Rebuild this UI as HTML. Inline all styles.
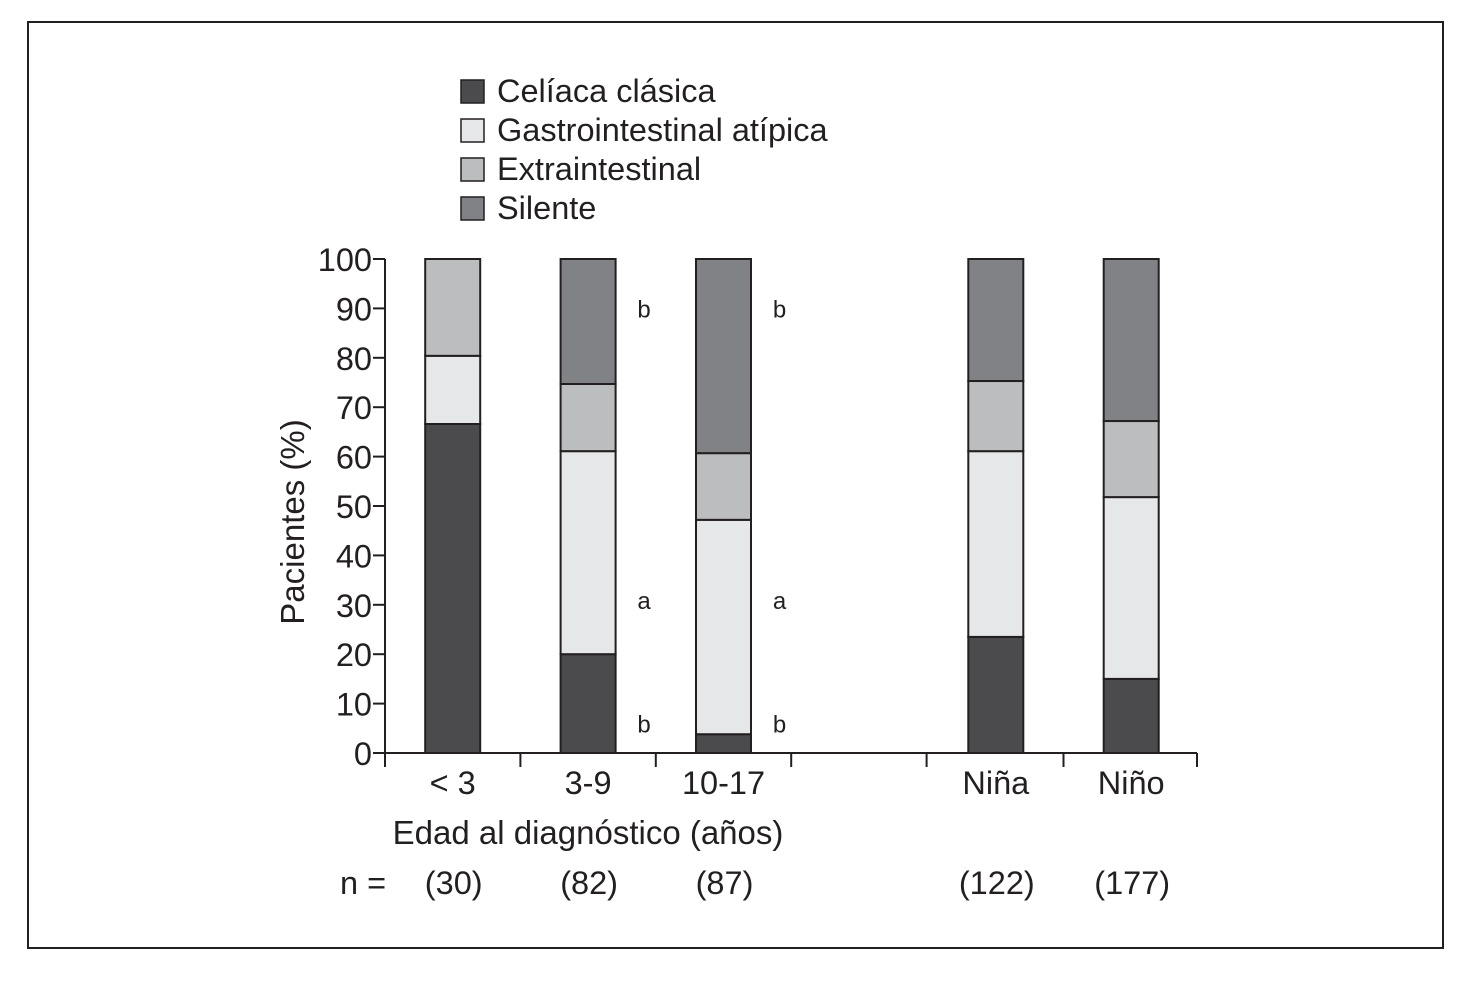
<!DOCTYPE html>
<html><head><meta charset="utf-8"><style>
body{margin:0;background:#fff;width:1470px;height:979px;overflow:hidden}
svg text{font-family:"Liberation Sans",sans-serif;fill:#231f20}
</style></head><body>
<svg id="chart" width="1470" height="979">
<rect x="28" y="22" width="1415" height="926" fill="none" stroke="#231f20" stroke-width="2"/>
<g id="legend"></g>
<g id="plot"></g>
</svg>
<script>
const categories=["< 3","3-9","10-17","","Niña","Niño"];
const nLabels=["(30)","(82)","(87)","","(122)","(177)"];
const celiaca=[66.6,20,3.8,null,23.5,15];
const gastro=[13.8,41.1,43.4,null,37.6,36.8];
const extra=[19.6,13.6,13.5,null,14.2,15.4];
const silente=[0,25.3,39.3,null,24.7,32.8];
const seriesNames=["Celíaca clásica","Gastrointestinal atípica","Extraintestinal","Silente"];
const yTicks=[0,10,20,30,40,50,60,70,80,90,100];
const annotations=[{c:1,v:90,t:"b"},{c:1,v:31,t:"a"},{c:1,v:6,t:"b"},{c:2,v:90,t:"b"},{c:2,v:31,t:"a"},{c:2,v:6,t:"b"}];

const colors=["#4b4b4d","#e6e7e8","#bcbdbf","#808285"];
const series=[celiaca,gastro,extra,silente];
const NS="http://www.w3.org/2000/svg";
const x0=385,slot=135.4,yBase=753,yTop=259,bw=55;
const y=v=>yBase-(yBase-yTop)*v/100;
const xc=i=>x0+slot*(i+0.5)+(i>3?1.5:0);
function mk(tag,attrs,parent,text){const e=document.createElementNS(NS,tag);for(const k in attrs)e.setAttribute(k,attrs[k]);if(text!==undefined)e.textContent=text;parent.appendChild(e);return e;}
const plot=document.getElementById('plot'),leg=document.getElementById('legend');
seriesNames.forEach((s,i)=>{
 const yy=80+i*39;
 const r=mk('rect',{x:461,y:yy,width:23,height:23,fill:colors[i],stroke:'#231f20','stroke-width':1.5},leg);
 
 
 const t=mk('text',{x:497,y:yy+22,'font-size':32.5},leg,s);
 
 
});
categories.forEach((c,i)=>{
 if(celiaca[i]===null)return;
 let cum=0;
 series.forEach((ser,k)=>{
  const v=ser[i];if(!v)return;
  const r=mk('rect',{x:xc(i)-bw/2,y:y(cum+v),width:bw,height:y(cum)-y(cum+v),fill:colors[k],stroke:'#231f20','stroke-width':2},plot);
  
  
  cum+=v;
 });
});
const ya=mk('line',{x1:x0,y1:yTop,x2:x0,y2:yBase,stroke:'#231f20','stroke-width':2},plot);

const xa=mk('line',{x1:x0,y1:yBase,x2:1197,y2:yBase,stroke:'#231f20','stroke-width':2},plot);

yTicks.forEach(v=>{
 mk('line',{x1:x0-12,y1:y(v),x2:x0,y2:y(v),stroke:'#231f20','stroke-width':2},plot);
 const t=mk('text',{x:x0-13,y:y(v)+12,'font-size':32.5,'text-anchor':'end'},plot,v);
 
 
});
for(let i=0;i<=categories.length;i++){
 const xx=i===categories.length?1197:x0+slot*i+(i>4?1.5:0);
 mk('line',{x1:xx,y1:yBase,x2:xx,y2:yBase+14,stroke:'#231f20','stroke-width':2},plot);
}
categories.forEach((c,i)=>{
 const t=mk('text',{x:xc(i),y:794,'font-size':32.5,'text-anchor':'middle'},plot,c);
 
 
 const n=mk('text',{x:xc(i)+1,y:894,'font-size':32.5,'text-anchor':'middle'},plot,nLabels[i]);
 
 
});
annotations.forEach(a=>{
 const t=mk('text',{x:xc(a.c)+56,y:y(a.v)+9,'font-size':24,'text-anchor':'middle'},plot,a.t);
 
 
});
const xt=mk('text',{x:588,y:844,'font-size':33,'text-anchor':'middle'},plot,'Edad al diagnóstico (años)');

const nt=mk('text',{x:340,y:894,'font-size':32.5},plot,'n =');

const yt=mk('text',{x:0,y:0,'font-size':33,'text-anchor':'middle',transform:'translate(304,522) rotate(-90)'},plot,'Pacientes (%)');

</script>
</body></html>
